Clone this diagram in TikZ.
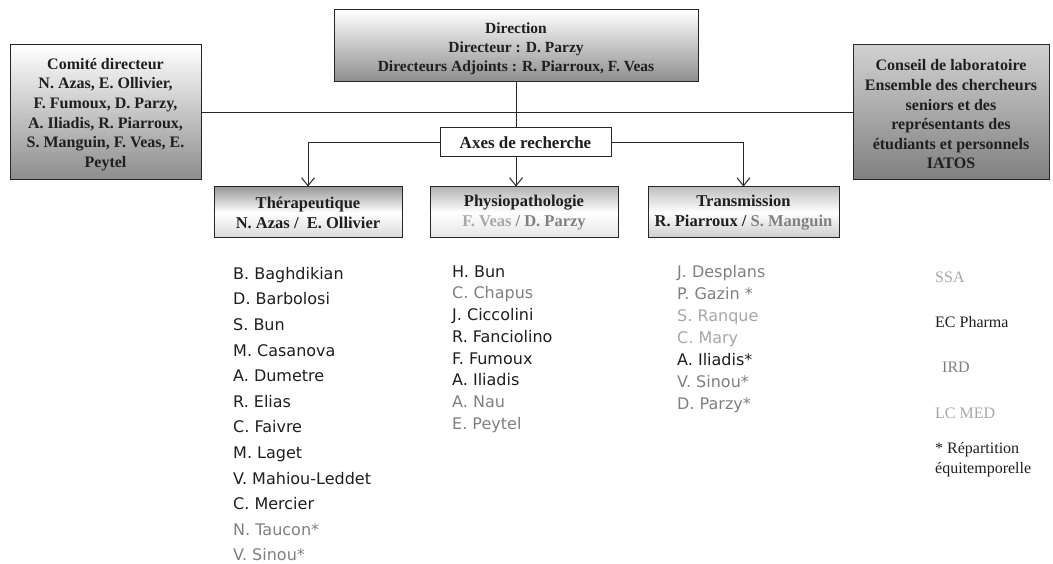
\documentclass[tikz,border=0pt]{standalone}
\usepackage{fontspec}
\setmainfont{Liberation Serif}
\newfontfamily\listfont{DejaVu Sans}
\usetikzlibrary{arrows.meta}
\definecolor{dk}{gray}{0.12}
\definecolor{md}{gray}{0.5}
\definecolor{lt}{gray}{0.66}
\begin{document}
\begin{tikzpicture}[x=1pt,y=-1pt,
  box/.style={draw=black!85, line width=1pt, align=center, inner sep=0pt,
    font=\bfseries\fontsize{16}{19.6}\selectfont, text=dk},
  topbox/.style={box, top color=white, bottom color=black!45},
  lowbox/.style={box, top color=black!40, bottom color=black!15, middle color=white,
    font=\bfseries\fontsize{16.5}{20}\selectfont},
  conn/.style={line width=0.9pt, draw=black!85},
  arr/.style={conn, -{Straight Barb[length=8pt,width=13pt,line width=1pt]}},
  person/.style={anchor=west, inner sep=0pt, font=\listfont\fontsize{16}{18}\selectfont,
    text height=12pt, text depth=3.5pt},
  sidetext/.style={anchor=west, inner sep=0pt, align=left, font=\fontsize{16}{20}\selectfont},
]
\useasboundingbox (0,0) rectangle (1053,564);
\fill[white] (0,0) rectangle (1053,564);

% top boxes
\node[topbox, minimum width=364pt, minimum height=72pt,
  font=\bfseries\fontsize{15.5}{19}\selectfont] (dir) at (516,46)
  {\rule{0pt}{17pt}Direction\\Directeur : D. Parzy\\Directeurs Adjoints : R. Piarroux, F. Veas};
\node[topbox, minimum width=191pt, minimum height=135pt] (com) at (105.5,112.5)
  {\rule{0pt}{15pt}Comité directeur\\N. Azas, E. Ollivier,\\F. Fumoux, D. Parzy,\\A. Iliadis, R. Piarroux,\\S. Manguin, F. Veas, E.\\Peytel};
\node[topbox, top color=black!18, bottom color=black!50, minimum width=196pt, minimum height=135pt] (con) at (951,112.5)
  {\rule{0pt}{15pt}Conseil de laboratoire\\Ensemble des chercheurs\\seniors et des\\représentants des\\étudiants et personnels\\IATOS};

% axes
\node[box, fill=white, minimum width=171pt, minimum height=29pt,
  font=\bfseries\fontsize{17}{20}\selectfont] (axes) at (525.5,142.5) {Axes de recherche};

% lower boxes
\node[lowbox, minimum width=188pt, minimum height=51pt] (ther) at (308,212.5)
  {Thérapeutique\\N. Azas /\ \ E. Ollivier};
\node[lowbox, top color=black!30, bottom color=black!10, middle color=white,
  minimum width=188pt, minimum height=51pt] (phys) at (524,212.5)
  {Physiopathologie\\\textcolor{lt}{F. Veas} \textcolor{md}{/ D. Parzy}};
\node[lowbox, top color=black!25, bottom color=black!20, middle color=white,
  minimum width=191pt, minimum height=51pt] (trans) at (743.5,212.5)
  {Transmission\\R. Piarroux / \textcolor{md}{S. Manguin}};

% connectors
\draw[conn] (com.east) -- (con.west);
\draw[conn] (dir.south) -- (dir.south |- axes.north);
\draw[arr] (axes.west) -| (ther.north);
\draw[arr] (axes.east) -| (trans.north);
\draw[arr] (dir.south |- axes.south) -- (dir.south |- phys.north);

% lists
\foreach \c/\t [count=\i] in {dk/B. Baghdikian, dk/D. Barbolosi, dk/S. Bun, dk/M. Casanova,
  dk/A. Dumetre, dk/R. Elias, dk/C. Faivre, dk/M. Laget, dk/V. Mahiou-Leddet,
  dk/C. Mercier, md/N. Taucon*, md/V. Sinou*}
  \node[person, text=\c] (t\i) at (233, 275+25.6*\i-25.6) {\t};

\foreach \c/\t [count=\i] in {dk/H. Bun, md/C. Chapus, dk/J. Ciccolini, dk/R. Fanciolino,
  dk/F. Fumoux, dk/A. Iliadis, md/A. Nau, md/E. Peytel}
  \node[person, text=\c] (p\i) at (452, 273+21.7*\i-21.7) {\t};

\foreach \c/\t [count=\i] in {md/J. Desplans, md/P. Gazin *, lt/S. Ranque, lt/C. Mary,
  dk/A. Iliadis*, md/V. Sinou*, md/D. Parzy*}
  \node[person, text=\c] (r\i) at (677, 273+22*\i-22) {\t};

% right column
\node[sidetext, text=lt] (ssa) at (935,277) {SSA};
\node[sidetext, text=dk] (ecp) at (935,322) {EC Pharma};
\node[sidetext, text=md] (ird) at (942,367) {IRD};
\node[sidetext, text=lt] (lcm) at (935,413) {LC MED};
\node[sidetext, text=dk] (rep) at (935,460) {* Répartition\\équitemporelle};
\end{tikzpicture}
\end{document}
